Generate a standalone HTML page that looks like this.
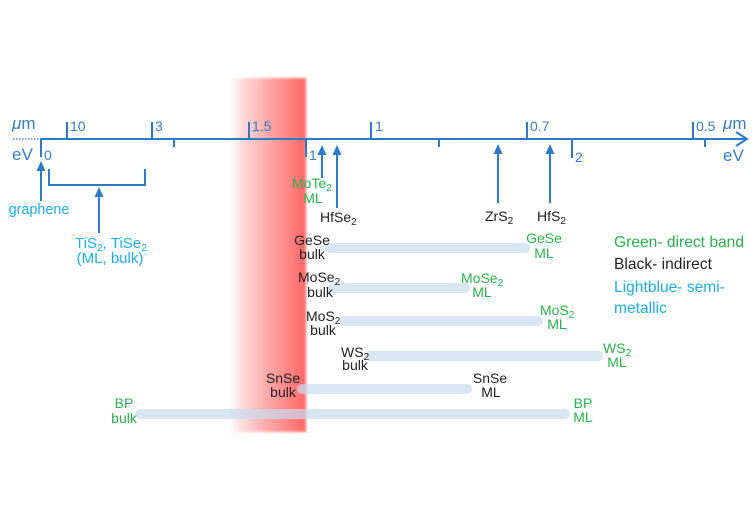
<!DOCTYPE html>
<html><head><meta charset="utf-8"><style>
html,body{margin:0;padding:0;background:#fff;}
svg{display:block;}
text{font-family:"Liberation Sans",Arial,sans-serif;}
.k{fill:#222;font-size:14px;}
.g{fill:#2bb04c;font-size:14px;}
.lb{fill:#1eaee9;font-size:15px;}
.ax{fill:#3a7dc4;font-size:14px;}
.lg{font-size:15.6px;}
</style></head><body>
<svg width="756" height="506" viewBox="0 0 756 506" xmlns="http://www.w3.org/2000/svg">
<defs>
<linearGradient id="rg" x1="0" x2="1" y1="0" y2="0">
<stop offset="0" stop-color="#ff5f5f" stop-opacity="0.03"/>
<stop offset="0.15" stop-color="#ff5f5f" stop-opacity="0.22"/>
<stop offset="0.5" stop-color="#ff5f5f" stop-opacity="0.55"/>
<stop offset="1" stop-color="#ff5f5f" stop-opacity="0.95"/>
</linearGradient>
<filter id="bl" x="-5%" y="-2%" width="110%" height="104%"><feGaussianBlur stdDeviation="1.2"/></filter>
</defs>
<rect x="231" y="78" width="75" height="354" fill="url(#rg)" filter="url(#bl)"/>

<!-- bars -->
<g fill="#c9dbf0" fill-opacity="0.7">
<rect x="325" y="243" width="205" height="10" rx="5"/>
<rect x="328" y="283" width="142" height="10" rx="5"/>
<rect x="340" y="316" width="203" height="10" rx="5"/>
<rect x="366" y="351" width="237" height="10" rx="5"/>
<rect x="297" y="384" width="175" height="10" rx="5"/>
<rect x="135" y="409" width="435" height="10" rx="5"/>
</g>

<!-- axis -->
<g stroke="#2c7bc4" stroke-width="2" fill="none">
<line x1="13" y1="139" x2="41" y2="139" stroke-width="1.2" stroke-dasharray="1.5,1.5"/>
<line x1="41" y1="139" x2="747" y2="139"/>
<polyline points="736,132 747,139 736,146"/>
<line x1="67" y1="122" x2="67" y2="139"/>
<line x1="152" y1="122" x2="152" y2="139"/>
<line x1="249" y1="122" x2="249" y2="139"/>
<line x1="371" y1="122" x2="371" y2="139"/>
<line x1="527" y1="122" x2="527" y2="139"/>
<line x1="693" y1="122" x2="693" y2="139"/>
<line x1="41" y1="139" x2="41" y2="157"/>
<line x1="306" y1="139" x2="306" y2="157"/>
<line x1="572" y1="139" x2="572" y2="158"/>
<line x1="174" y1="139" x2="174" y2="147"/>
<line x1="439" y1="139" x2="439" y2="147"/>
<line x1="705" y1="139" x2="705" y2="147"/>
<!-- arrows shafts -->
<line x1="41" y1="168" x2="41" y2="201"/>
<polyline points="49,169 49,185 145,185 145,169"/>
<line x1="99" y1="194" x2="99" y2="233"/>
<line x1="322" y1="152" x2="322" y2="178"/>
<line x1="337" y1="152" x2="337" y2="208"/>
<line x1="498" y1="151" x2="498" y2="203"/>
<line x1="550" y1="151" x2="550" y2="203"/>
</g>
<g fill="#2c7bc4">
<polygon points="41,161 36.5,171 45.5,171"/>
<polygon points="99,187 94.5,197 103.5,197"/>
<polygon points="322,145 317.5,155 326.5,155"/>
<polygon points="337,145 332.5,155 341.5,155"/>
<polygon points="498,144 493.5,154 502.5,154"/>
<polygon points="550,144 545.5,154 554.5,154"/>
</g>

<!-- axis labels -->
<text class="ax" x="12" y="129" style="font-size:17px"><tspan font-style="italic">μ</tspan>m</text>
<text class="ax" x="12" y="160" style="font-size:17px">eV</text>
<text class="ax" x="723" y="129" style="font-size:17px"><tspan font-style="italic">μ</tspan>m</text>
<text class="ax" x="723" y="161" style="font-size:17px">eV</text>
<text class="ax" x="70" y="131">10</text>
<text class="ax" x="155" y="131">3</text>
<text class="ax" x="252" y="131">1.5</text>
<text class="ax" x="375" y="131">1</text>
<text class="ax" x="530" y="131">0.7</text>
<text class="ax" x="696" y="131">0.5</text>
<text class="ax" x="44" y="160">0</text>
<text class="ax" x="309" y="160">1</text>
<text class="ax" x="575" y="162">2</text>

<!-- top annotations -->
<text class="lb" x="39" y="214" text-anchor="middle" style="font-size:14.4px">graphene</text>
<text class="lb" x="111" y="248" text-anchor="middle">TiS<tspan font-size="10.5" dy="3">2</tspan><tspan dy="-3">, TiSe</tspan><tspan font-size="10.5" dy="3">2</tspan></text>
<text class="lb" x="110" y="263" text-anchor="middle">(ML, bulk)</text>
<text class="g" x="292" y="188">MoTe<tspan font-size="10" dy="3">2</tspan></text>
<text class="g" x="313" y="203" text-anchor="middle">ML</text>
<text class="k" x="320" y="222">HfSe<tspan font-size="10" dy="3">2</tspan></text>
<text class="k" x="485" y="221">ZrS<tspan font-size="10" dy="3">2</tspan></text>
<text class="k" x="537" y="221">HfS<tspan font-size="10" dy="3">2</tspan></text>

<!-- bulk labels -->
<text class="k" x="312" y="245" text-anchor="middle">GeSe</text>
<text class="k" x="312" y="259" text-anchor="middle">bulk</text>
<text class="k" x="298" y="282">MoSe<tspan font-size="10" dy="3">2</tspan></text>
<text class="k" x="320" y="297" text-anchor="middle">bulk</text>
<text class="k" x="306" y="321">MoS<tspan font-size="10" dy="3">2</tspan></text>
<text class="k" x="323" y="335" text-anchor="middle">bulk</text>
<text class="k" x="341" y="357">WS<tspan font-size="10" dy="3">2</tspan></text>
<text class="k" x="355" y="370" text-anchor="middle">bulk</text>
<text class="k" x="283" y="383" text-anchor="middle">SnSe</text>
<text class="k" x="283" y="397" text-anchor="middle">bulk</text>
<text class="g" x="124" y="408" text-anchor="middle">BP</text>
<text class="g" x="124" y="423" text-anchor="middle">bulk</text>

<!-- ML labels -->
<text class="g" x="544" y="243" text-anchor="middle">GeSe</text>
<text class="g" x="544" y="258" text-anchor="middle">ML</text>
<text class="g" x="461" y="283">MoSe<tspan font-size="10" dy="3">2</tspan></text>
<text class="g" x="482" y="297" text-anchor="middle">ML</text>
<text class="g" x="540" y="315">MoS<tspan font-size="10" dy="3">2</tspan></text>
<text class="g" x="557" y="329" text-anchor="middle">ML</text>
<text class="g" x="603" y="353">WS<tspan font-size="10" dy="3">2</tspan></text>
<text class="g" x="617" y="367" text-anchor="middle">ML</text>
<text class="k" x="490" y="383" text-anchor="middle">SnSe</text>
<text class="k" x="491" y="397" text-anchor="middle">ML</text>
<text class="g" x="583" y="408" text-anchor="middle">BP</text>
<text class="g" x="583" y="422" text-anchor="middle">ML</text>

<!-- legend -->
<text class="g lg" x="614" y="247">Green- direct band</text>
<text class="k lg" x="614" y="269">Black- indirect</text>
<text class="lb lg" x="614" y="292">Lightblue- semi-</text>
<text class="lb lg" x="614" y="313">metallic</text>
</svg>
</body></html>
